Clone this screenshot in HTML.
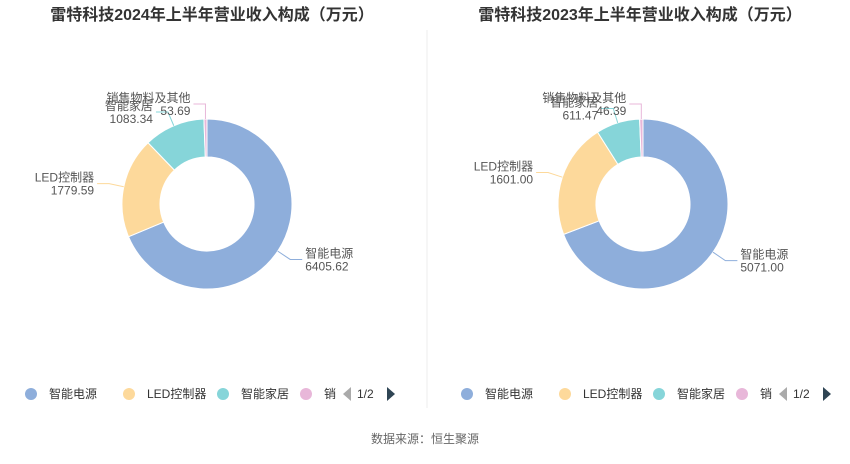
<!DOCTYPE html>
<html><head><meta charset="utf-8">
<style>
body{margin:0;background:#fff;font-family:"Liberation Sans","Noto Sans CJK SC",sans-serif;}
svg text{font-family:"Liberation Sans","Noto Sans CJK SC",sans-serif;}
</style></head>
<body>
<svg id="c" width="850" height="459" viewBox="0 0 850 459">
<text x="212" y="20" text-anchor="middle" font-size="16" font-weight="bold" fill="#333">雷特科技2024年上半年营业收入构成（万元）</text>
<text x="640" y="20" text-anchor="middle" font-size="16" font-weight="bold" fill="#333">雷特科技2023年上半年营业收入构成（万元）</text>
<line x1="427" y1="30" x2="427" y2="408" stroke="#eee"/>
<text x="425" y="443" text-anchor="middle" font-size="12" fill="#666">数据来源：恒生聚源</text>
</svg>
<script>
const categories=["智能电源","LED控制器","智能家居","销售物料及其他"];
const values2024=[6405.62,1779.59,1083.34,53.69];
const values2023=[5071.00,1601.00,611.47,46.39];
const colors=["#8eaedb","#fdd99b","#86d5d9","#e8b7d9"];
const NS="http://www.w3.org/2000/svg";
const svg=document.getElementById('c');
function mk(t,a){const e=document.createElementNS(NS,t);for(const k in a)e.setAttribute(k,a[k]);svg.appendChild(e);return e;}
function pt(cx,cy,r,a){return [cx+r*Math.sin(a),cy-r*Math.cos(a)];}
function donut(cx,cy,vals,tag){
 const R=85,r=47,tot=vals.reduce((a,b)=>a+b,0);let a0=0;
 vals.forEach((v,i)=>{
  const a1=a0+v/tot*2*Math.PI;const lg=(a1-a0)>Math.PI?1:0;
  const p1=pt(cx,cy,R,a0),p2=pt(cx,cy,R,a1),p3=pt(cx,cy,r,a1),p4=pt(cx,cy,r,a0);
  const p=mk('path',{d:`M${p1}A${R},${R} 0 ${lg} 1 ${p2}L${p3}A${r},${r} 0 ${lg} 0 ${p4}Z`,fill:colors[i],stroke:'#fff','stroke-width':1});
  
  
  const m=(a0+a1)/2;
  let q1=pt(cx,cy,R,m),q2=pt(cx,cy,R+15,m);
  if(v/tot<0.02){q2=[q1[0],cy-R-15];}
  const right=Math.sin(m)>0.01;
  const q3=[q2[0]+(right?12:-12),q2[1]];
  const l=mk('polyline',{points:`${q1} ${q2} ${q3}`,fill:'none',stroke:colors[i],'stroke-width':1});
  
  
  const tx=q3[0]+(right?3:-3);
  const t=mk('text',{x:tx,y:q3[1]-2,'text-anchor':right?'start':'end','font-size':12,fill:'#555'});
  t.textContent=categories[i];
  
  
  const t2=mk('text',{x:tx,y:q3[1]+11,'text-anchor':right?'start':'end','font-size':12,fill:'#555'});
  t2.textContent=v.toFixed(2);
  
  
  a0=a1;
 });
}
donut(207,204,values2024,'2024');
donut(643,204,values2023,'2023');
function legend(x0,tag){
 const xs=[0,98,192,275];
 categories.forEach((c,i)=>{
  const ci=mk('circle',{cx:x0+xs[i],cy:394,r:6,fill:colors[i]});
  
  
  const t=mk('text',{x:x0+xs[i]+18,y:398,'font-size':12,fill:'#333'});
  t.textContent=i==3?'销':c;
  
  
 });
 const pl=mk('polygon',{points:`${x0+312},394 ${x0+320},387 ${x0+320},401`,fill:'#aaa'});
 
 
 const pt2=mk('text',{x:x0+326,y:398,'font-size':12,fill:'#333'});
 pt2.textContent='1/2';
 
 
 const pn=mk('polygon',{points:`${x0+356},387 ${x0+364},394 ${x0+356},401`,fill:'#2f4554'});
 
 
}
legend(31,'2024');
legend(467,'2023');
</script>
</body></html>
